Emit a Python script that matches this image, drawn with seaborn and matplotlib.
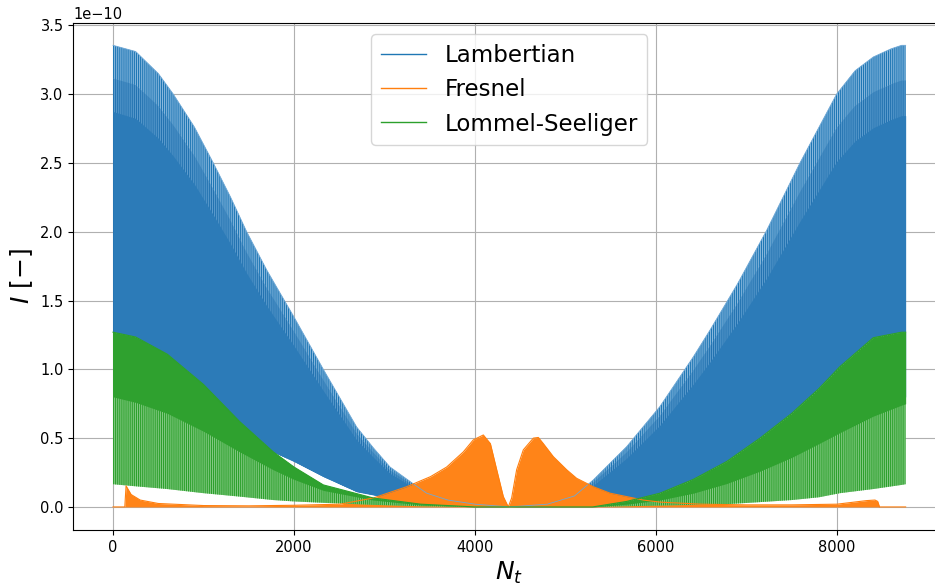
import matplotlib
matplotlib.use("Agg")
import numpy as np
import pandas as pd
import seaborn as sns
import matplotlib.pyplot as plt

SCALE = 1e-10

# Lambertian: time step, daily maximum and daily minimum (units of 1e-10)
lamb_t = [0, 250, 500, 666, 900, 1108, 1300, 1477, 1700, 2000, 2324, 2693, 2876,
          3061, 3356, 3466, 3700, 4000, 4380, 4800, 5100, 5307, 5676, 6044, 6412,
          6597, 6900, 7223, 7591, 7996, 8200, 8401, 8600, 8714, 8759]
lamb_max = [3.355, 3.31, 3.15, 3.00, 2.76, 2.50, 2.25, 2.00, 1.72, 1.38, 1.00, 0.58, 0.43,
            0.29, 0.15, 0.10, 0.05, 0.02, 0.0, 0.02, 0.08, 0.196, 0.438, 0.73, 1.09,
            1.285, 1.62, 2.01, 2.50, 3.00, 3.17, 3.27, 3.33, 3.355, 3.355]
lamb_min = [0.95, 0.88, 0.80, 0.75, 0.68, 0.61, 0.55, 0.49, 0.42, 0.33, 0.22, 0.11, 0.087,
            0.06, 0.03, 0.02, 0.01, 0.0, 0.0, 0.0, 0.0, 0.0, 0.02, 0.05, 0.10,
            0.13, 0.20, 0.27, 0.38, 0.55, 0.62, 0.70, 0.76, 0.80, 0.80]

# Fresnel: time step and daily maximum (minimum stays at zero)
fres_t = [0, 130, 144, 200, 300, 500, 1000, 1500, 2000, 2508, 2876, 3245, 3508, 3687,
          3871, 3981, 4092, 4170, 4240, 4313, 4368, 4405, 4460, 4534, 4645, 4700,
          4755, 4866, 5013, 5123, 5307, 5492, 5676, 5860, 6044, 6500, 7000, 7500,
          8000, 8328, 8420, 8450, 8470, 8759]
fres_max = [0.0, 0.0, 0.153, 0.09, 0.05, 0.025, 0.01, 0.008, 0.012, 0.02, 0.065, 0.147, 0.22, 0.29,
            0.40, 0.487, 0.523, 0.46, 0.27, 0.075, 0.0, 0.065, 0.27, 0.415, 0.50, 0.505,
            0.46, 0.365, 0.27, 0.208, 0.147, 0.10, 0.075, 0.05, 0.035, 0.02, 0.015, 0.015,
            0.02, 0.046, 0.05, 0.04, 0.0, 0.0]

# Lommel-Seeliger: time step, daily maximum, dense core and daily minimum
ls_t = [0, 250, 600, 1000, 1400, 1771, 2000, 2324, 2876, 3400, 4000, 5300, 5676,
        6044, 6412, 6781, 7149, 7500, 7800, 8033, 8401, 8714, 8759]
ls_max = [1.27, 1.235, 1.11, 0.89, 0.62, 0.40, 0.29, 0.16, 0.065, 0.02, 0.0, 0.0, 0.04,
          0.10, 0.20, 0.33, 0.50, 0.68, 0.86, 1.02, 1.23, 1.27, 1.27]
ls_core = [0.80, 0.76, 0.68, 0.55, 0.40, 0.27, 0.20, 0.12, 0.05, 0.015, 0.0, 0.0, 0.02,
           0.05, 0.10, 0.17, 0.26, 0.36, 0.46, 0.54, 0.66, 0.74, 0.75]
ls_min = [0.165, 0.15, 0.13, 0.10, 0.075, 0.05, 0.04, 0.03, 0.015, 0.005, 0.0, 0.0, 0.005,
          0.01, 0.015, 0.02, 0.035, 0.05, 0.07, 0.10, 0.13, 0.16, 0.165]

labels = ["Lambertian", "Fresnel", "Lommel-Seeliger"]
colors = ["#1f77b4", "#ff7f0e", "#2ca02c"]

plt.rcParams["hatch.linewidth"] = 0.8
STRIPES = "|" * 8

fig = plt.figure(figsize=(9.35, 5.86), dpi=100)
ax = fig.add_axes([0.0785, 0.0956, 0.9326, 0.8652])


def sc(v):
    return np.asarray(v, dtype=float) * SCALE


# Lambertian band: dense body with a striped rim near the daily maxima
lt = np.asarray(lamb_t, dtype=float)
lo, hi = sc(lamb_min), sc(lamb_max)
rim = lo + 0.9 * (hi - lo)
ax.fill_between(lt, lo, hi, facecolor="#8dbbe0", edgecolor=colors[0],
                hatch=STRIPES, lw=0)
ax.fill_between(lt, lo, rim, facecolor="#5d9dcf", edgecolor="#2272b0",
                hatch=STRIPES, lw=0)
ax.fill_between(lt, lo, lo + 0.8 * (hi - lo), color="#2c7bb8", lw=0)
sns.lineplot(x=lt, y=hi, color="#6fa8d6", lw=0.6, ax=ax, label=labels[0])

# Fresnel band
ft = np.asarray(fres_t, dtype=float)
ax.fill_between(ft, 0, sc(fres_max), color="#ff8418", lw=0)
sns.lineplot(x=ft, y=sc(fres_max), color=colors[1], lw=0.8, ax=ax, label=labels[1])

# Lommel-Seeliger band: striped lower part, solid core up to the maxima
gt = np.asarray(ls_t, dtype=float)
ax.fill_between(gt, sc(ls_min), sc(ls_max), facecolor="#86cb86", edgecolor=colors[2],
                hatch=STRIPES, lw=0)
ax.fill_between(gt, sc(ls_core), sc(ls_max), color="#2fa12f", lw=0)
sns.lineplot(x=gt, y=sc(ls_max), color=colors[2], lw=0.8, ax=ax, label=labels[2])

ax.set_xlim(-438, 9198)
ax.set_ylim(-0.1675e-10, 3.5175e-10)
ax.set_xticks([0, 2000, 4000, 6000, 8000])
ax.set_yticks(np.arange(0, 3.51, 0.5) * SCALE)
ax.grid(True, color="#b0b0b0", lw=0.8)
ax.set_axisbelow(True)
ax.spines["right"].set_visible(False)
ax.tick_params(labelsize=10.5)
ax.yaxis.get_offset_text().set_fontsize(10.5)
ax.set_xlabel(r"$N_t$", fontsize=18)
ax.set_ylabel(r"$I$ [$-$]", fontsize=18)

leg = ax.legend(loc="upper center", fontsize=16.5, framealpha=0.8)
for line, c in zip(leg.get_lines(), colors):
    line.set_linewidth(1.0)
    line.set_color(c)

fig.savefig("out.png", dpi=100)
